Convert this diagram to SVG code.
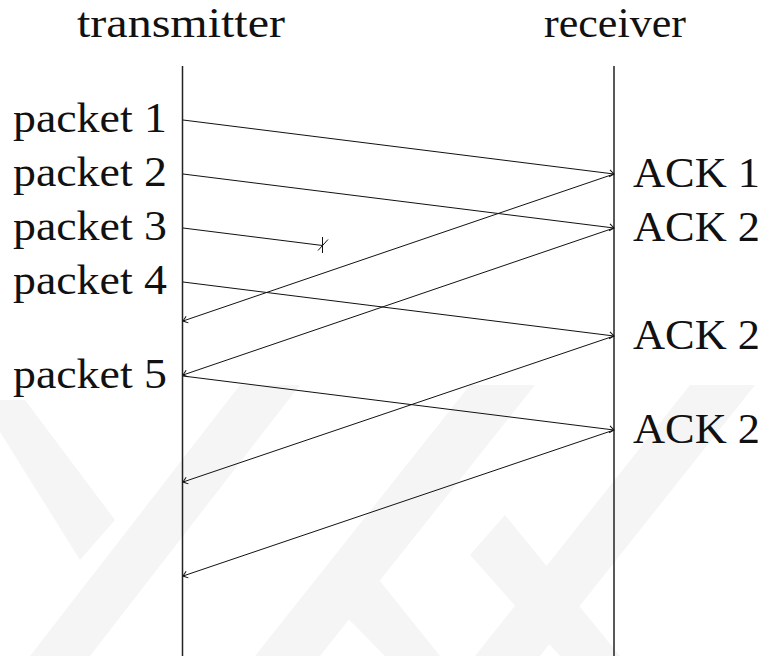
<svg xmlns="http://www.w3.org/2000/svg" width="771" height="656" viewBox="0 0 771 656" font-family="Liberation Serif, Times New Roman, serif" font-size="42">
  <defs>
    <style>
      .life { stroke: #222; stroke-width: 1.5; fill: none; }
      .msg { stroke: #111; stroke-width: 1; fill: none; marker-end: url(#tip); }
      .lost { stroke: #111; stroke-width: 1; fill: none; }
      .wm { fill: #f5f5f5; stroke: none; }
    </style>
    <marker id="tip" markerUnits="userSpaceOnUse" markerWidth="12" markerHeight="12" viewBox="-6 -6 12 12" refX="0" refY="0" orient="auto">
      <path d="M-4.5,-3.5 Q-1.2,-0.9 0,0 Q-1.2,0.9 -4.5,3.5" stroke="#111" stroke-width="1" fill="none"/>
    </marker>
    <clipPath id="wmclip"><rect x="0" y="385" width="771" height="271"/></clipPath>
  </defs>

  <rect width="771" height="656" fill="#ffffff"/>

  <!-- faint background emblem -->
  <g id="emblem" clip-path="url(#wmclip)">
    <polygon class="wm" points="240,385 300,385 90,656 30,656"/>
    <polygon class="wm" points="470,385 535,385 320,656 255,656"/>
    <polygon class="wm" points="690,385 755,385 540,656 475,656"/>
    <polygon class="wm" points="-20,400 25,400 115,520 80,560"/>
    <polygon class="wm" points="470,555 505,515 620,656 560,656"/>
    <polygon class="wm" points="320,590 355,550 440,656 385,656"/>
  </g>

  <!-- lifelines -->
  <g id="transmitter">
    <text x="77" y="37" fill="#111" font-family="Liberation Serif" textLength="208" lengthAdjust="spacingAndGlyphs">transmitter</text>
    <line class="life" x1="182.5" y1="66" x2="182.5" y2="656"/>
  </g>
  <g id="receiver">
    <text x="544" y="37" fill="#111" font-family="Liberation Serif" textLength="142" lengthAdjust="spacingAndGlyphs">receiver</text>
    <line class="life" x1="614" y1="66" x2="614" y2="656"/>
  </g>

  <!-- packet labels -->
  <g id="packet1"><text x="13" y="132" fill="#111" font-family="Liberation Serif" textLength="154" lengthAdjust="spacingAndGlyphs">packet 1</text></g>
  <g id="packet2"><text x="13" y="186" fill="#111" font-family="Liberation Serif" textLength="154" lengthAdjust="spacingAndGlyphs">packet 2</text></g>
  <g id="packet3"><text x="13" y="240" fill="#111" font-family="Liberation Serif" textLength="154" lengthAdjust="spacingAndGlyphs">packet 3</text></g>
  <g id="packet4"><text x="13" y="294" fill="#111" font-family="Liberation Serif" textLength="154" lengthAdjust="spacingAndGlyphs">packet 4</text></g>
  <g id="packet5"><text x="13" y="388" fill="#111" font-family="Liberation Serif" textLength="154" lengthAdjust="spacingAndGlyphs">packet 5</text></g>

  <!-- acknowledgement labels -->
  <g id="ack1"><text x="633" y="187" fill="#111" font-family="Liberation Serif" textLength="127" lengthAdjust="spacingAndGlyphs">ACK 1</text></g>
  <g id="ack2a"><text x="633" y="241" fill="#111" font-family="Liberation Serif" textLength="127" lengthAdjust="spacingAndGlyphs">ACK 2</text></g>
  <g id="ack2b"><text x="633" y="349" fill="#111" font-family="Liberation Serif" textLength="127" lengthAdjust="spacingAndGlyphs">ACK 2</text></g>
  <g id="ack2c"><text x="633" y="443" fill="#111" font-family="Liberation Serif" textLength="127" lengthAdjust="spacingAndGlyphs">ACK 2</text></g>

  <!-- messages -->
  <g id="connectors">
    <line class="msg" x1="183" y1="120" x2="614" y2="174"/>
    <line class="msg" x1="183" y1="174" x2="614" y2="228"/>
    <line class="lost" x1="183" y1="228" x2="322.5" y2="245.5"/>
    <line class="lost" x1="322.5" y1="237" x2="322.5" y2="253"/>
    <line class="lost" x1="318" y1="250.5" x2="328" y2="239.5"/>
    <line class="msg" x1="183" y1="282" x2="614" y2="336"/>
    <line class="msg" x1="183" y1="376" x2="614" y2="430"/>

    <line class="msg" x1="614" y1="174" x2="183" y2="321"/>
    <line class="msg" x1="614" y1="228" x2="183" y2="375"/>
    <line class="msg" x1="614" y1="336" x2="183" y2="482"/>
    <line class="msg" x1="614" y1="430" x2="183" y2="576"/>
  </g>
</svg>
